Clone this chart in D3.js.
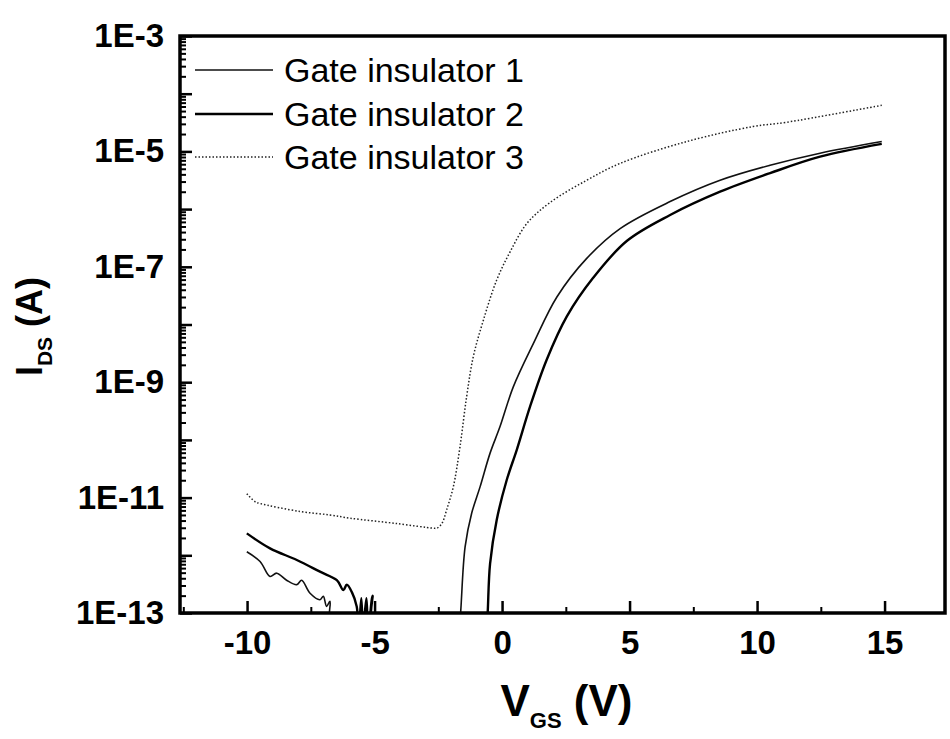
<!DOCTYPE html>
<html>
<head>
<meta charset="utf-8">
<script src="https://cdn.jsdelivr.net/npm/d3@7"></script>
<style>
  html, body { margin: 0; padding: 0; background: #fff; }
  svg { display: block; }
</style>
</head>
<body>
<svg id="chart" width="950" height="739"></svg>
<script>
// ---------------- data ----------------
const seriesNames = ["Gate insulator 1", "Gate insulator 2", "Gate insulator 3"];

// Gate insulator 1 (values below 1E-13 are off-scale readings)
const g1Vgs = [-10.01, -9.49, -9.10, -8.84, -8.45, -8.05, -7.86, -7.53, -7.14, -7.01, -6.88, -6.75, -6.65,
  -1.68, -1.62, -1.45, -1.19, -0.86, -0.47, -0.08, 0.44, 1.23, 2.15, 3.32, 4.63, 6.59, 8.55, 10.51, 12.47, 14.89];
const g1Ids = [1.15e-12, 7.8e-13, 4.3e-13, 4.9e-13, 3.7e-13, 3.1e-13, 3.7e-13, 2.2e-13, 1.7e-13, 1.95e-13, 1.3e-13, 1.6e-13, 5e-14,
  5e-14, 1.1e-13, 1.4e-12, 5.4e-12, 1.55e-11, 5.9e-11, 1.7e-10, 8.3e-10, 4.7e-9, 3.0e-8, 1.4e-7, 4.6e-7, 1.35e-6, 3.16e-6, 5.75e-6, 9.3e-6, 1.48e-5];

// Gate insulator 2
const g2Vgs = [-10.01, -9.10, -8.05, -7.14, -6.48, -6.22, -6.09, -5.89, -5.70, -5.62, -5.52, -5.45, -5.32, -5.25, -5.08, -5.00,
  -0.60, -0.56, -0.47, -0.21, 0.18, 0.58, 1.10, 1.75, 2.54, 3.58, 4.89, 6.59, 8.55, 10.51, 12.47, 14.89];
const g2Ids = [2.4e-12, 1.32e-12, 8.3e-13, 5.2e-13, 3.7e-13, 2.5e-13, 3.1e-13, 2.3e-13, 1.3e-13, 5e-14, 1.8e-13, 5e-14, 1.8e-13, 5e-14, 2.0e-13, 5e-14,
  5e-14, 1.1e-13, 7.2e-13, 4.1e-12, 2.0e-11, 6.8e-11, 3.8e-10, 2.45e-9, 1.38e-8, 6.5e-8, 2.8e-7, 7.9e-7, 2.0e-6, 4.2e-6, 8.1e-6, 1.35e-5];

// Gate insulator 3
const g3Vgs = [-10.01, -9.69, -9.49, -7.92, -6.75, -5.96, -4.13, -2.69, -2.56, -2.36, -2.17, -1.91, -1.65, -1.39, -1.13,
  -0.73, -0.21, 0.31, 0.97, 1.88, 3.32, 4.63, 7.24, 9.85, 11.16, 14.89];
const g3Ids = [1.17e-11, 8.5e-12, 7.9e-12, 5.75e-12, 5.0e-12, 4.4e-12, 3.55e-12, 2.95e-12, 2.95e-12, 3.55e-12, 6.2e-12, 1.55e-11, 7.6e-11, 5.6e-10, 2.75e-9,
  1.2e-8, 5.9e-8, 1.8e-7, 5.6e-7, 1.3e-6, 3.16e-6, 6.2e-6, 1.48e-5, 2.7e-5, 3.2e-5, 6.3e-5];

const xTickValues = [-10, -5, 0, 5, 10, 15];
const xMinorTickValues = [-12.5, -7.5, -2.5, 2.5, 7.5, 12.5, 17.5];
const yLabelExponents = [-3, -5, -7, -9, -11, -13];
const xDomain = [-12.63, 17.37];
const yDomain = [1e-13, 1e-3];

// ---------------- layout ----------------
const pL = 180, pR = 945, pT = 36, pB = 613;
const svg = d3.select("#chart");

const x = d3.scaleLinear().domain(xDomain).range([pL, pR]);
const y = d3.scaleLog().domain(yDomain).range([pB, pT]);

svg.append("defs").append("clipPath").attr("id", "plotclip")
  .append("rect").attr("x", pL).attr("y", pT)
  .attr("width", pR - pL).attr("height", pB - pT);

// ---------------- ticks ----------------
const decades = d3.range(-13, -2).map(e => Math.pow(10, e));
const minorY = [];
for (let e = -13; e < -3; e++) for (let m = 2; m <= 9; m++) minorY.push(m * Math.pow(10, e));

const fontTick = "'Liberation Sans', Arial, sans-serif";

// y minor
svg.append("g").attr("transform", `translate(${pL},0)`)
  .call(d3.axisLeft(y).tickValues(minorY).tickSize(-6).tickFormat(""))
  .call(g => g.select(".domain").remove())
  .call(g => g.selectAll("line").attr("stroke", "#000").attr("stroke-width", 2));
// y major
svg.append("g").attr("transform", `translate(${pL},0)`)
  .call(d3.axisLeft(y).tickValues(decades).tickSize(-12).tickPadding(28)
    .tickFormat(d => {
      const e = Math.round(Math.log10(d));
      return yLabelExponents.includes(e) ? "1E" + e : "";
    }))
  .call(g => g.select(".domain").remove())
  .call(g => g.selectAll("line").attr("stroke", "#000").attr("stroke-width", 2.5))
  .call(g => g.selectAll("text")
    .attr("font-family", fontTick).attr("font-weight", "bold")
    .attr("font-size", 33).attr("fill", "#000").attr("dx", 12));

// x minor
svg.append("g").attr("transform", `translate(0,${pB})`)
  .call(d3.axisBottom(x).tickValues(xMinorTickValues.filter(v => v > xDomain[0] && v < xDomain[1])).tickSize(-6).tickFormat(""))
  .call(g => g.select(".domain").remove())
  .call(g => g.selectAll("line").attr("stroke", "#000").attr("stroke-width", 2));
// x major
svg.append("g").attr("transform", `translate(0,${pB})`)
  .call(d3.axisBottom(x).tickValues(xTickValues).tickSize(-12).tickPadding(20)
    .tickFormat(d => String(d)))
  .call(g => g.select(".domain").remove())
  .call(g => g.selectAll("line").attr("stroke", "#000").attr("stroke-width", 2.5))
  .call(g => g.selectAll("text")
    .attr("font-family", fontTick).attr("font-weight", "bold")
    .attr("font-size", 33).attr("fill", "#000").attr("dy", "0.71em").attr("y", 18));

// ---------------- series ----------------
const series = [
  { name: seriesNames[0], v: g1Vgs, i: g1Ids, width: 1.6, dash: null, color: "#111" },
  { name: seriesNames[1], v: g2Vgs, i: g2Ids, width: 2.4, dash: null, color: "#000" },
  { name: seriesNames[2], v: g3Vgs, i: g3Ids, width: 1.5, dash: "1.5,2", color: "#222" }
];

const line = d3.line()
  .x(d => x(d[0]))
  .y(d => y(d[1]))
  .curve(d3.curveCatmullRom.alpha(0.5));

const plot = svg.append("g").attr("clip-path", "url(#plotclip)");
series.forEach(s => {
  const pts = s.v.map((v, k) => [v, s.i[k]]);
  plot.append("path")
    .attr("d", line(pts))
    .attr("fill", "none")
    .attr("stroke", s.color)
    .attr("stroke-width", s.width)
    .attr("stroke-dasharray", s.dash)
    .attr("stroke-linejoin", "round");
});

// ---------------- frame ----------------
svg.append("rect")
  .attr("x", pL).attr("y", pT)
  .attr("width", pR - pL).attr("height", pB - pT)
  .attr("fill", "none").attr("stroke", "#000").attr("stroke-width", 3.5);

// ---------------- legend ----------------
const legendRowY = [70, 114, 157];
const legend = svg.append("g");
series.forEach((s, k) => {
  legend.append("line")
    .attr("x1", 195).attr("x2", 273)
    .attr("y1", legendRowY[k]).attr("y2", legendRowY[k])
    .attr("stroke", s.color).attr("stroke-width", s.width)
    .attr("stroke-dasharray", s.dash);
  legend.append("text")
    .attr("x", 284).attr("y", legendRowY[k] + 12)
    .attr("font-family", fontTick).attr("font-size", 34).attr("fill", "#000")
    .text(s.name);
});

// ---------------- axis titles ----------------
const xt = svg.append("text")
  .attr("x", (pL + pR) / 2 + 4).attr("y", 716)
  .attr("text-anchor", "middle")
  .attr("font-family", fontTick).attr("font-weight", "bold")
  .attr("font-size", 44).attr("fill", "#000");
xt.append("tspan").text("V");
xt.append("tspan").attr("font-size", 22).attr("dy", 12).text("GS");
xt.append("tspan").attr("dy", -12).text(" (V)");

const yt = svg.append("text")
  .attr("transform", `translate(42,${(pT + pB) / 2 + 2}) rotate(-90)`)
  .attr("text-anchor", "middle")
  .attr("font-family", fontTick).attr("font-weight", "bold")
  .attr("font-size", 36).attr("fill", "#000");
yt.append("tspan").text("I");
yt.append("tspan").attr("font-size", 21).attr("dy", 10).text("DS");
yt.append("tspan").attr("dy", -10).text(" (A)");
</script>
</body>
</html>
